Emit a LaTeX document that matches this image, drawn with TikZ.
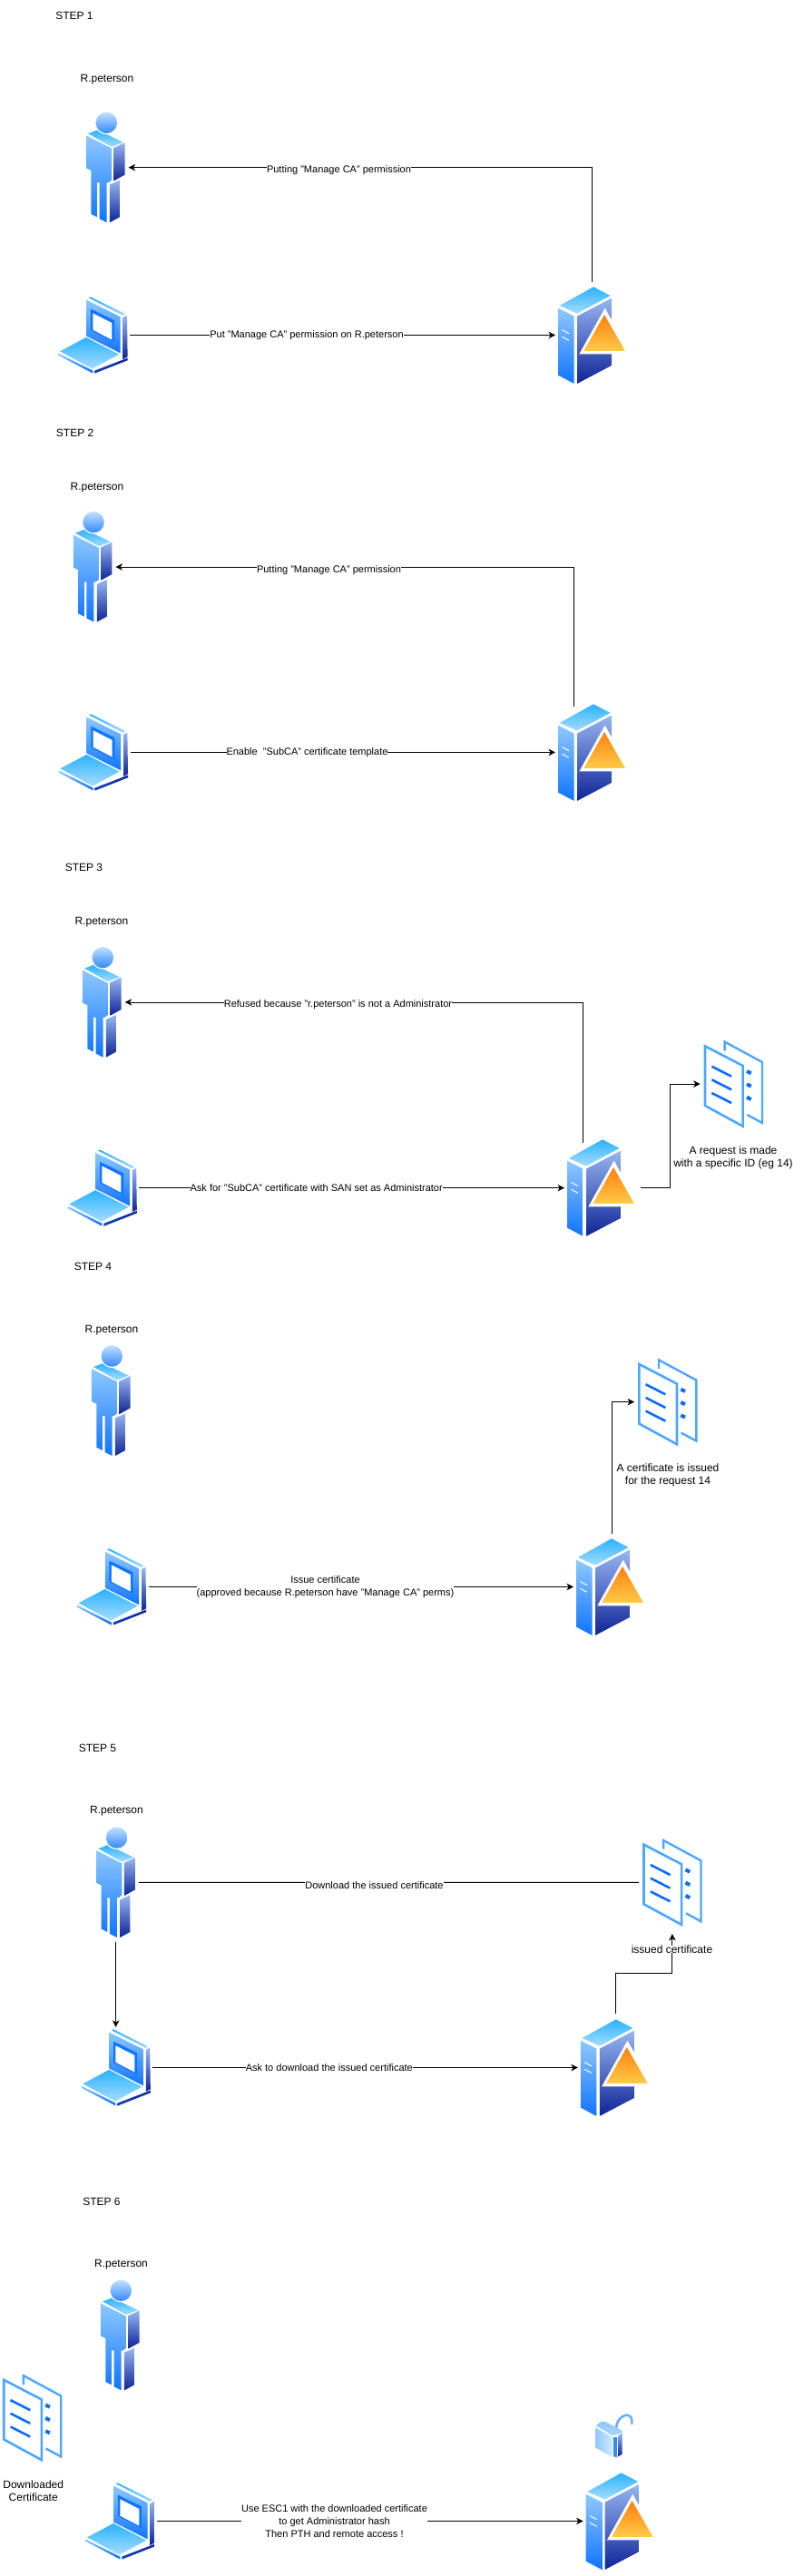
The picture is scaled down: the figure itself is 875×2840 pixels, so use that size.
\documentclass[tikz,border=0pt]{standalone}
\usepackage{fontspec}
\setmainfont{Liberation Sans}
\usetikzlibrary{arrows.meta}
\definecolor{cyanA}{HTML}{2AB2FF}
\definecolor{cyanB}{HTML}{A6DDFF}
\definecolor{frontA}{HTML}{8FC8FF}
\definecolor{frontB}{HTML}{0F74FF}
\definecolor{sideA}{HTML}{97B6F2}
\definecolor{sideB}{HTML}{0F2496}
\definecolor{orangeA}{HTML}{FF7F0E}
\definecolor{orangeB}{HTML}{FFCB47}
\definecolor{docA}{HTML}{4DA6FF}
\definecolor{docB}{HTML}{0A6CFF}
\tikzset{
  arr/.style={draw=black,line width=0.85pt,-{Stealth[length=7.5pt,width=7.5pt,inset=2.2pt]}},
  con/.style={draw=black,line width=0.85pt},
  txt/.style={font=\fontsize{12}{14}\selectfont,inner sep=0pt,align=center,text=black,yshift=-1.2pt},
  elbl/.style={font=\fontsize{11}{14}\selectfont,inner sep=0pt,align=center,fill=white,text=black,yshift=-1.2pt},
  faceT/.style={top color=cyanA,bottom color=cyanB},
  faceF/.style={top color=frontA,bottom color=frontB},
  faceS/.style={top color=sideA,bottom color=sideB}
}
\newcommand{\personicon}[3]{%
  \begin{scope}[shift={(#2-14.667,#3-8)},x=0.3333pt,y=-0.3333pt]
    \shade[faceT] (50,96)--(82,84)--(167,125)--(128,140)--cycle;
    \fill[white] (111,60) circle[radius=13pt];
    \shade[top color=frontA!55!white,bottom color=frontB!85!white] (111,60) circle[radius=11.7pt];
    \shade[faceF] (44,102)--(128,145)--(128,250)--(118,258)--(112,258)--(112,390)--(88,378)--(88,258)--(80,258)--(80,372)--(60,362)--(60,218)--(44,210)--cycle;
    \shade[faceS] (136,143)--(172,126)--(172,232)--(136,252)--cycle;
    \shade[faceS] (122,265)--(155,250)--(155,372)--(122,390)--cycle;
  \end{scope}
  \node[inner sep=0pt,outer sep=4pt,minimum width=42.67pt,minimum height=122.67pt] (#1) at (#2+21.33,#3+61.33) {};
}
\newcommand{\laptopicon}[3]{%
  \begin{scope}[shift={(#2-14.333,#3-7.333)},x=0.3333pt,y=-0.3333pt]
    \shade[left color=cyanA,right color=cyanB] (143,25)--(150,22)--(264,78)--(256,84)--cycle;
    \shade[faceF] (136,32)--(248,88)--(248,208)--(136,152)--cycle;
    \fill[frontB] (150,62)--(228,100)--(228,172)--(150,132)--cycle;
    \fill[white] (157,76)--(220,108)--(220,164)--(157,131)--cycle;
    \shade[faceS] (257,90)--(270,83)--(272,220)--(257,228)--cycle;
    \shade[faceT] (48,202)--(135,156)--(244,212)--(155,260)--cycle;
    \shade[left color=frontA,right color=frontB] (44,209)--(157,266)--(157,275)--(44,216)--cycle;
    \shade[left color=frontB!40!sideB,right color=sideB] (163,266)--(272,224)--(272,232)--(163,275)--cycle;
  \end{scope}
  \node[inner sep=0pt,outer sep=2.5pt,minimum width=76.33pt,minimum height=84.33pt] (#1) at (#2+38.17,#3+42.17) {};
}
\newcommand{\servericon}[3]{%
  \begin{scope}[shift={(#2-35,#3-26)},x=0.3333pt,y=-0.3333pt]
    \shade[faceT] (110,140)--(222,78)--(278,107)--(168,166)--cycle;
    \shade[faceF] (105,148)--(158,175)--(158,398)--(105,370)--cycle;
    \shade[faceS] (168,175)--(282,115)--(282,338)--(168,398)--cycle;
    \draw[white,line width=1pt] (118,220)--(141,232) (118,243)--(141,255);
    \fill[white] (260,148)--(345,300)--(175,300)--cycle;
    \shade[top color=orangeA,bottom color=orangeB] (258,170)--(327,290)--(190,290)--cycle;
  \end{scope}
  \node[inner sep=0pt,outer sep=3pt,minimum width=74pt,minimum height=106.67pt] (#1) at (#2+37,#3+53.33) {};
}
\newcommand{\docicon}[3]{%
  \begin{scope}[shift={(#2-175.667,#3-26)},x=0.3333pt,y=-0.3333pt]
    \draw[docA,line width=2.4pt,miter limit=10] (596,115)--(596,86)--(720,153)--(720,354)--(670,327);
    \draw[docA,line width=2.6pt,miter limit=10] (531,100)--(656,165)--(656,365)--(531,297)--cycle;
    \draw[docB,line width=2.6pt] (553,167)--(618,200) (553,211)--(618,244) (553,255)--(618,288);
    \draw[docB,line width=4pt] (669,183)--(683,190) (669,226)--(683,233) (669,269)--(683,276);
  \end{scope}
  \node[inner sep=0pt,outer sep=4pt,minimum width=65.33pt,minimum height=98pt] (#1) at (#2+32.67,#3+49) {};
}
\newcommand{\lockicon}[3]{%
  \begin{scope}[shift={(#2-26,#3-21)},x=0.3333pt,y=-0.3333pt]
    \draw[frontA!70!frontB,line width=2.6pt,line cap=round] (148,125) .. controls (142,85) and (170,66) .. (185,68) .. controls (198,70) and (200,82) .. (199,96);
    \shade[top color=frontA,bottom color=frontA!75!white] (80,103)--(95,90)--(112,90)--(165,118)--(168,125)--(150,132)--(136,136)--cycle;
    \shade[left color=frontA,right color=frontA!40!white] (78,109)--(135,141)--(135,207)--(78,175)--cycle;
    \fill[frontB!85!white] (138,141)--(150,141)--(150,207)--(138,205)--cycle;
    \shade[faceS] (153,137)--(167,127)--(167,197)--(153,205)--cycle;
  \end{scope}
  \node[inner sep=0pt,minimum width=42pt,minimum height=48pt] (#1) at (#2+21,#3+24) {};
}
\begin{document}
\begin{tikzpicture}[x=1pt,y=-1pt]
\useasboundingbox (0,0) rectangle (875,2840);
\fill[white] (0,0) rectangle (875,2840);
% step 1
\personicon{p1}{95}{123.3}
\laptopicon{l1}{64.3}{327.3}
\servericon{s1}{615}{316.3}
\node[txt] (st1) at (82,16) {STEP 1};
\node[txt] (n1) at (118,86) {R.peterson};
\draw[arr] ([yshift=2pt]s1.north) |- (p1.east);
\draw[arr] (l1.east) -- (l1.east -| s1.west);
\node[elbl] (e1a) at (373.5,186.5) {Putting "Manage CA" permission};
\node[elbl] (e1b) at (338,368.5) {Put "Manage CA" permission on R.peterson};
% step 2
\personicon{p2}{80.8}{563.7}
\laptopicon{l2}{64.7}{787.3}
\servericon{s2}{615}{776.3}
\node[txt] (st2) at (82.6,475.7) {STEP 2};
\node[txt] (n2) at (107,536) {R.peterson};
\draw[arr] ([xshift=-19.4pt,yshift=-6pt]s2.north) |- (p2.east);
\draw[arr] (l2.east) -- (l2.east -| s2.west);
\node[elbl] (e2a) at (362.5,627) {Putting "Manage CA" permission};
\node[elbl] (e2b) at (338.5,828) {Enable \ "SubCA" certificate template};
% step 3
\personicon{p3}{91}{1043.6}
\laptopicon{l3}{74.5}{1267.5}
\servericon{s3}{625}{1256.3}
\docicon{d3}{775.7}{1146}
\node[txt] (st3) at (92.5,955.3) {STEP 3};
\node[txt] (n3) at (112,1015.5) {R.peterson};
\draw[arr] ([xshift=-19.7pt,yshift=-6.2pt]s3.north) |- (p3.east);
\draw[arr] (l3.east) -- (l3.east -| s3.west);
\draw[arr] ([xshift=4pt]s3.east) -- ++(32.7,0) |- (d3.west);
\node[elbl] (e3a) at (372.5,1106.8) {Refused because "r.peterson" is not a Administrator};
\node[elbl] (e3b) at (348.7,1308) {Ask for "SubCA" certificate with SAN set as Administrator};
\node[txt] (t3) at (808,1274.7) {A request is made\\with a specific ID (eg 14)};
% step 4
\personicon{p4}{101}{1483}
\laptopicon{l4}{84.8}{1707.3}
\servericon{s4}{635}{1696.3}
\docicon{d4}{703}{1496.6}
\node[txt] (st4) at (102.5,1395.6) {STEP 4};
\node[txt] (n4) at (123,1465.5) {R.peterson};
\draw[arr] (l4.east) -- (l4.east -| s4.west);
\draw[arr] ([xshift=2.5pt,yshift=2.7pt]s4.north) |- (d4.west);
\node[elbl] (e4) at (358.5,1748) {Issue certificate\\(approved because R.peterson have "Manage CA" perms)};
\node[txt] (t4) at (736,1624.7) {A certificate is issued\\for the request 14};
% step 5
\personicon{p5}{106.3}{2014}
\laptopicon{l5}{89.5}{2237.3}
\servericon{s5}{639.8}{2226.3}
\docicon{d5}{708.2}{2026.3}
\node[txt] (st5) at (107.5,1926) {STEP 5};
\node[txt] (n5) at (128.5,1995.7) {R.peterson};
\draw[con] (p5.east) -- (d5.west);
\draw[arr] (p5.south) -- (p5.south |- l5.north);
\draw[arr] (l5.east) -- (l5.east -| s5.west);
\draw[arr] ([xshift=2pt,yshift=3pt]s5.north) -- ++(0,-44.7) -| ([yshift=-3.7pt]d5.south);
\node[elbl] (e5a) at (412.5,2077) {Download the issued certificate};
\node[elbl] (e5b) at (362.8,2278.3) {Ask to download the issued certificate};
\node[elbl,font=\fontsize{12}{14}\selectfont] (e5c) at (740.5,2147.7) {issued certificate};
% step 6
\personicon{p6}{111}{2513.3}
\laptopicon{l6}{94.3}{2737.3}
\servericon{s6}{645.6}{2726.3}
\docicon{d6}{2.9}{2616.4}
\lockicon{k6}{656}{2661}
\node[txt] (st6) at (112,2426) {STEP 6};
\node[txt] (n6) at (133.5,2495.7) {R.peterson};
\node[txt] (t6) at (36.7,2744.7) {Downloaded\\Certificate};
\draw[arr] (l6.east) -- (l6.east -| s6.west);
\node[elbl] (e6) at (368.5,2778) {Use ESC1 with the downloaded certificate\\to get Administrator hash\\Then PTH and remote access !};
\end{tikzpicture}
\end{document}
